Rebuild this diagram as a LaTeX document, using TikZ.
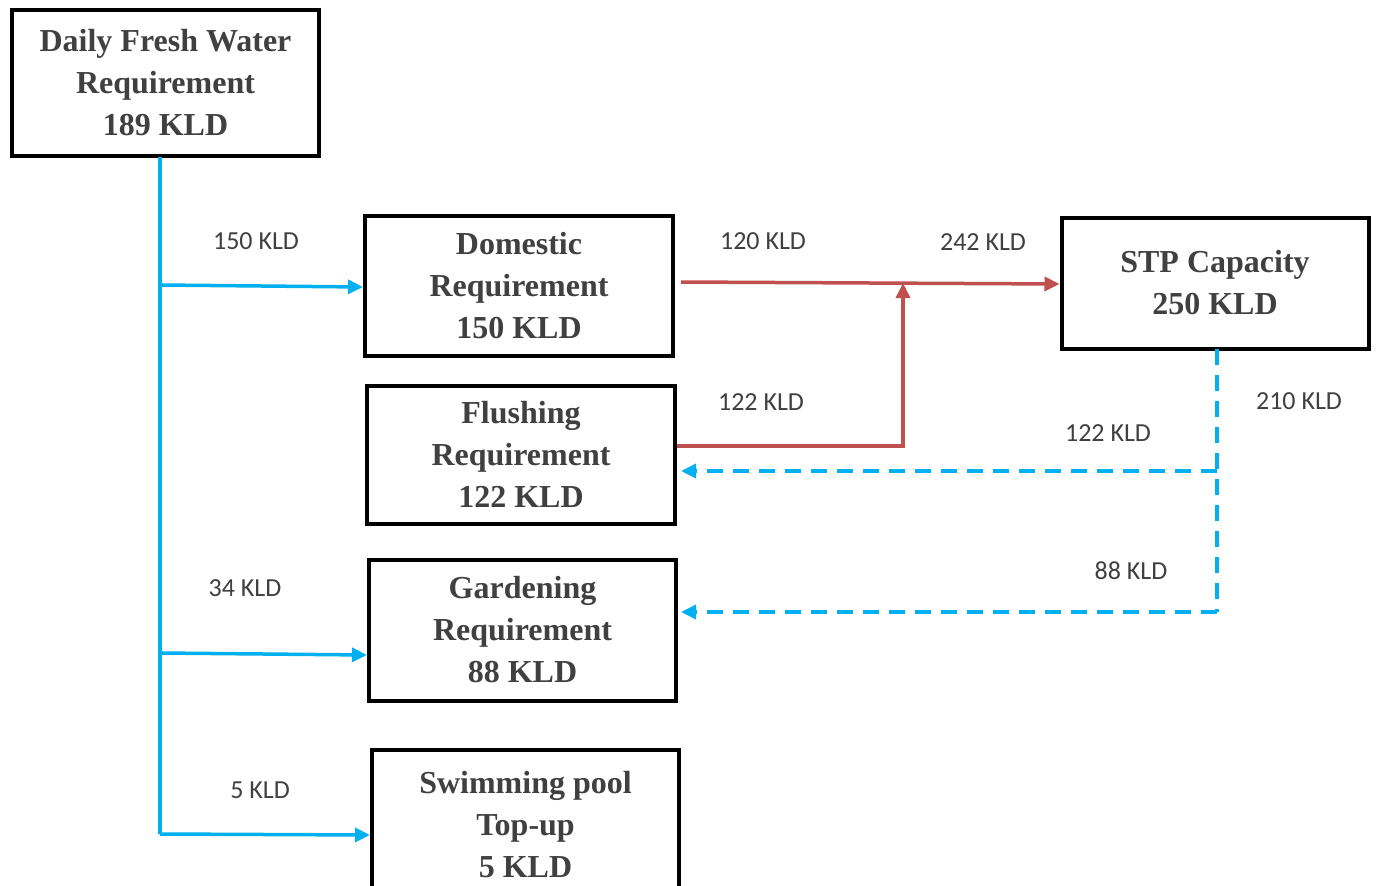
\documentclass[tikz,border=0pt]{standalone}
\usepackage{fontspec}
\setmainfont{Liberation Serif}
\newfontfamily\lblfont{Carlito}
\usetikzlibrary{arrows.meta}
\definecolor{txtgray}{HTML}{404040}
\definecolor{flowblue}{HTML}{00B0F0}
\definecolor{flowred}{HTML}{C0504D}
\begin{document}
\begin{tikzpicture}[x=1pt,y=-1pt,
  box/.style={draw=black,line width=4pt,align=center,inner sep=0pt,
    text=txtgray,font=\fontsize{32}{42}\selectfont\bfseries},
  lbl/.style={text=txtgray,font=\lblfont\fontsize{26}{30}\selectfont,inner sep=0pt},
  tipb/.style={-{Triangle[length=15pt,width=14pt]}},
  blueline/.style={draw=flowblue,line width=3.5pt},
  redline/.style={draw=flowred,line width=3.5pt},
  dashline/.style={draw=flowblue,line width=3.5pt,dash pattern=on 16pt off 10pt}]
\useasboundingbox (0,0) rectangle (1377,886);
\clip (0,0) rectangle (1377,886);
\fill[white] (0,0) rectangle (1377,886);
% boxes
\node[box,minimum width=307pt,minimum height=146pt] (daily) at (165.5,83) {Daily Fresh Water\\Requirement\\189 KLD};
\node[box,minimum width=308pt,minimum height=140pt] (dom) at (519,285.5) {Domestic\\Requirement\\150 KLD};
\node[box,minimum width=308pt,minimum height=138pt] (flush) at (521,454.5) {Flushing\\Requirement\\122 KLD};
\node[box,minimum width=307pt,minimum height=141pt] (garden) at (522.5,630) {Gardening\\Requirement\\88 KLD};
\node[box,minimum width=307pt,minimum height=150pt] (swim) at (525.5,825) {Swimming pool\\Top-up\\5 KLD};
\node[box,minimum width=307pt,minimum height=131pt] (stp) at (1215,283) {STP Capacity\\250 KLD};
% coordinates
\coordinate (b0) at (160,157);
\coordinate (b1) at (160,285);
\coordinate (b2) at (160,653);
\coordinate (b3) at (160,834);
\coordinate (rj) at (903,446);
\coordinate (rm) at (903,283);
\coordinate (s0) at (1217,349);
\coordinate (s1) at (1217,471);
\coordinate (s2) at (1217,612);
% blue solid
\draw[blueline] (b0) -- (b3);
\draw[blueline,tipb] (b1) -- (dom.west |- 0,287);
\draw[blueline,tipb] (b2) -- (garden.west |- 0,655);
\draw[blueline,tipb] (b3) -- (swim.west |- 0,835);
% red
\draw[redline,tipb] (dom.east |- 0,282) ++(6,0) -- (stp.west |- 0,284);
\draw[redline,tipb] (flush.east |- rj) -- (rj) -- (rm);
% dashed
\draw[dashline] (s0) -- (s2);
\draw[dashline,tipb] (s1) -- ([xshift=4pt]flush.east |- s1);
\draw[dashline,tipb] (s2) -- ([xshift=3pt]garden.east |- s2);
% labels
\node[lbl] (l150) at (256,241) {150 KLD};
\node[lbl] (l34) at (245,588) {34 KLD};
\node[lbl] (l5) at (260,790) {5 KLD};
\node[lbl] (l120) at (763,241) {120 KLD};
\node[lbl] (l242) at (983,242) {242 KLD};
\node[lbl] (l122a) at (761,402) {122 KLD};
\node[lbl] (l122b) at (1108,433) {122 KLD};
\node[lbl] (l210) at (1299,401) {210 KLD};
\node[lbl] (l88) at (1131,571) {88 KLD};
\end{tikzpicture}
\end{document}
